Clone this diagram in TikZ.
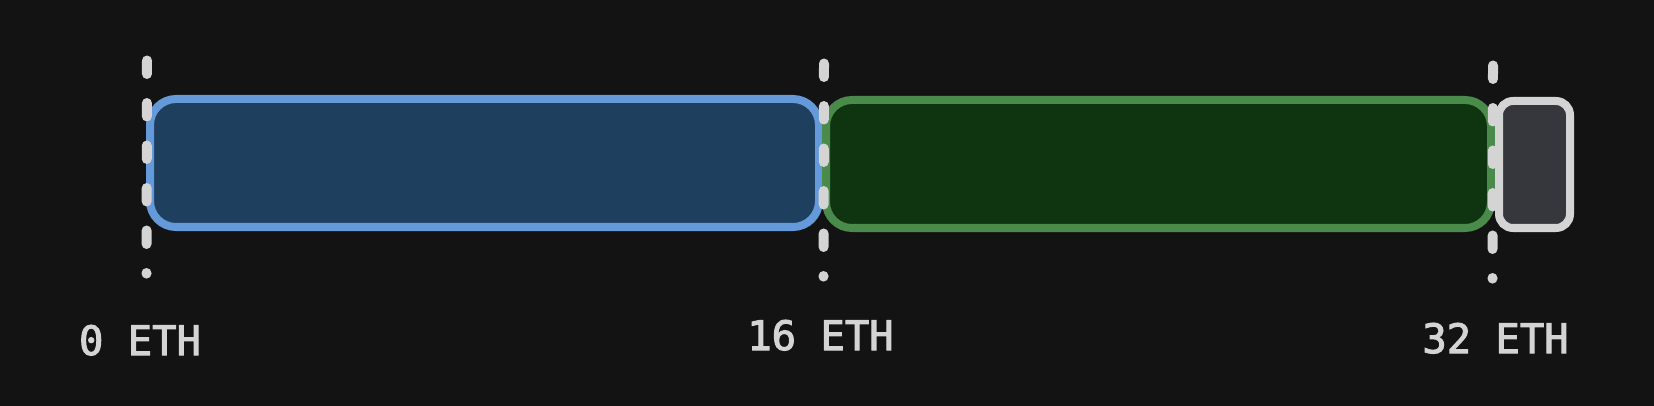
\documentclass[tikz,border=0pt]{standalone}
\usepackage{fontspec}
\newfontfamily\lblfont[FakeBold=2.5]{DejaVu Sans Mono}
\definecolor{bgc}{RGB}{19,19,19}
\definecolor{bluefill}{RGB}{30,63,94}
\definecolor{bluestroke}{RGB}{101,154,218}
\definecolor{greenfill}{RGB}{14,53,16}
\definecolor{greenstroke}{RGB}{74,138,74}
\definecolor{grayfill}{RGB}{53,55,60}
\definecolor{lightgray}{RGB}{212,212,212}
\begin{document}
\begin{tikzpicture}[x=1pt,y=-1pt,
  bar/.style={draw, line width=8pt, inner sep=0pt, outer sep=0pt, anchor=north west},
  marker/.style={draw=lightgray, line width=10pt, line cap=round, dash pattern=on 13.5pt off 29pt},
  lbl/.style={text=lightgray, font=\lblfont\fontsize{40.5}{48}\selectfont, anchor=base, inner sep=0pt}]
\fill[bgc] (0,0) rectangle (1654,406);
\useasboundingbox (0,0) rectangle (1654,406);
\node[bar, draw=bluestroke, fill=bluefill, rounded corners=26pt, minimum width=669pt, minimum height=128pt] (blue) at (150,99) {};
\node[bar, draw=greenstroke, fill=greenfill, rounded corners=26pt, minimum width=665pt, minimum height=128pt] (green) at (826,100) {};
\node[bar, draw=lightgray, fill=grayfill, rounded corners=14pt, minimum width=71pt, minimum height=127pt] (gray) at (1499,101) {};
\coordinate (m0t) at (147,60.5);
\coordinate (m0b) at (146.5,273.6);
\coordinate (m1t) at (824,63.5);
\coordinate (m1b) at (823.5,276.6);
\coordinate (m2t) at (1493,65.5);
\coordinate (m2b) at (1492.5,278.6);
\draw[marker] (m0t) -- (m0b);
\draw[marker] (m1t) -- (m1b);
\draw[marker] (m2t) -- (m2b);
\node[lbl] (l0) at (140,355) {0 ETH};
\node[lbl] (l1) at (820.5,350) {16 ETH};
\node[lbl] (l2) at (1495.5,353) {32 ETH};
\end{tikzpicture}
\end{document}
